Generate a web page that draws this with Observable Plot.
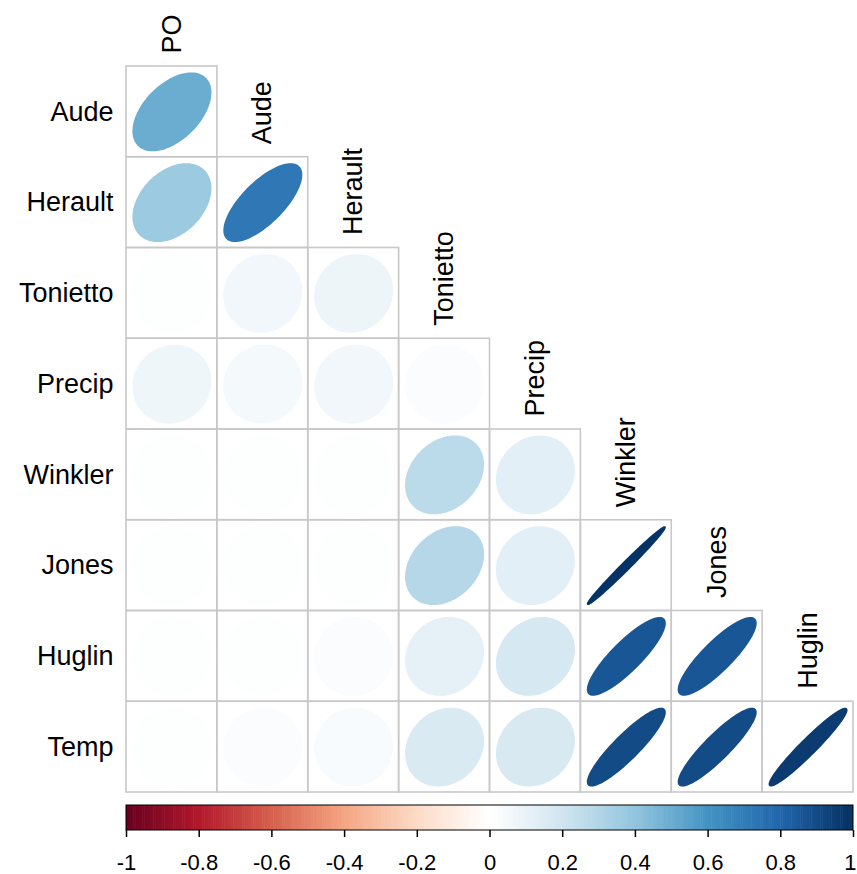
<!DOCTYPE html>
<html>
<head>
<meta charset="utf-8">
<script src="https://cdn.jsdelivr.net/npm/d3@7"></script>
<script src="https://cdn.jsdelivr.net/npm/@observablehq/plot@0.6"></script>
<style>
  body { margin: 0; background: #fff; }
  #chart svg { display: block; }
</style>
</head>
<body>
<div id="chart"></div>
<script>
// Column variables (x) and row variables (y) of the lower-triangle correlation matrix
const colLabels = ["PO", "Aude", "Herault", "Tonietto", "Precip", "Winkler", "Jones", "Huglin"];
const rowLabels = ["Aude", "Herault", "Tonietto", "Precip", "Winkler", "Jones", "Huglin", "Temp"];

// Correlations per row (against PO, Aude, Herault, ... in column order)
const rAude     = [0.50];
const rHerault  = [0.37, 0.72];
const rTonietto = [0.01, 0.06, 0.08];
const rPrecip   = [0.07, 0.05, 0.06, 0.02];
const rWinkler  = [0.01, 0.01, 0.01, 0.27, 0.12];
const rJones    = [0.01, 0.01, 0.01, 0.29, 0.12, 0.99];
const rHuglin   = [0.01, 0.01, 0.02, 0.11, 0.18, 0.86, 0.86];
const rTemp     = [0.01, 0.02, 0.03, 0.16, 0.17, 0.90, 0.90, 0.96];

// Colour scale (corrplot RdBu)
const corrStops  = [-1, -0.8, -0.6, -0.4, -0.2, 0, 0.2, 0.4, 0.6, 0.8, 1];
const corrColors = ["#67001F", "#B2182B", "#D6604D", "#F4A582", "#FDDBC7", "#FFFFFF",
                    "#D1E5F0", "#92C5DE", "#4393C3", "#2166AC", "#053061"];
const barTicks = [-1, -0.8, -0.6, -0.4, -0.2, 0, 0.2, 0.4, 0.6, 0.8, 1];

const rows = [rAude, rHerault, rTonietto, rPrecip, rWinkler, rJones, rHuglin, rTemp];

// Build cell table
const cells = [];
rows.forEach((vals, ri) => vals.forEach((r, ci) => cells.push({row: ri, col: ci, r, id: ri + "-" + ci})));

// Ellipse outlines (corrplot style), in cell units
const ELL = 0.85;
const ellPts = [];
for (const c of cells) {
  const d = Math.acos(c.r);
  const n = 100;
  for (let k = 0; k < n; k++) {
    const t = 2 * Math.PI * k / n;
    ellPts.push({
      id: c.id, r: c.r,
      x: c.col + 0.5 + ELL * Math.cos(t + d / 2) / 2,
      y: c.row + 0.5 - ELL * Math.cos(t - d / 2) / 2
    });
  }
}

const colorOpts = {type: "linear", domain: corrStops, range: corrColors, interpolate: "rgb"};
const font = "'Liberation Sans', Arial, sans-serif";

const main = Plot.plot({
  width: 857,
  height: 800,
  margin: 0,
  style: {fontFamily: font, background: "white"},
  x: {domain: [0, 8], range: [126, 853], axis: null},
  y: {domain: [0, 8], range: [66, 792], axis: null},
  color: colorOpts,
  marks: [
    Plot.line(ellPts, {x: "x", y: "y", z: "id", fill: "r", stroke: "r", strokeWidth: 1.8,
                       curve: "linear-closed"}),
    Plot.rect(cells, {x1: d => d.col, x2: d => d.col + 1, y1: d => d.row, y2: d => d.row + 1,
                      fill: "none", stroke: "#c8c8c8", strokeWidth: 1.6}),
    Plot.text(rowLabels, {x: 0, y: (d, i) => i + 0.5, text: d => d, textAnchor: "end",
                          dx: -13, fontSize: 27, fill: "black"}),
    Plot.text(colLabels, {x: (d, i) => i + 0.5, y: (d, i) => i, text: d => d, rotate: -90,
                          textAnchor: "start", dy: -13, fontSize: 27, fill: "black"})
  ]
});

const bins = d3.range(-1, 1, 0.005);
const bar = Plot.plot({
  width: 857,
  height: 74,
  margin: 0,
  style: {fontFamily: font, background: "white"},
  x: {domain: [-1, 1], range: [126, 853], axis: null},
  y: {domain: [0, 1], range: [5, 30], axis: null},
  color: colorOpts,
  marks: [
    Plot.rect(bins, {x1: d => d, x2: d => Math.min(1, d + 0.0065), y1: 0, y2: 1, fill: d => d + 0.0025}),
    Plot.rect([0], {x1: -1, x2: 1, y1: 0, y2: 1, fill: "none", stroke: "black", strokeWidth: 1}),
    Plot.ruleX(barTicks, {x: d => d, y1: 1, y2: 1.28, stroke: "black", strokeWidth: 1.5}),
    Plot.text(barTicks.slice(0, -1), {x: d => d, y: 1, dy: 32, text: d => String(d), fontSize: 22, fill: "black"}),
    Plot.text(barTicks.slice(-1), {x: d => d, y: 1, dy: 32, dx: 3, textAnchor: "end",
                                   text: d => String(d), fontSize: 22, fill: "black"})
  ]
});

const root = document.getElementById("chart");
root.appendChild(main);
root.appendChild(bar);
</script>
</body>
</html>
